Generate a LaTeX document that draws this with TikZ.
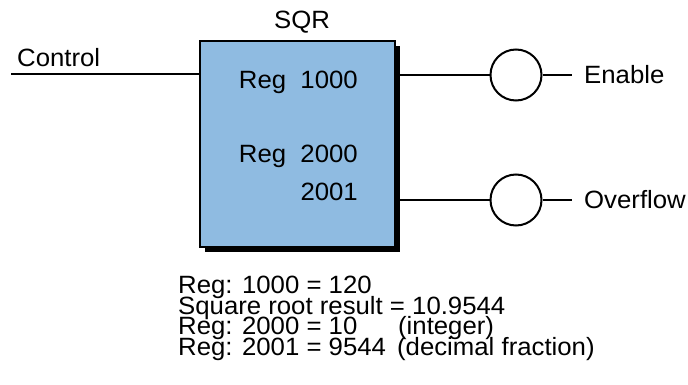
\documentclass[tikz,border=0pt]{standalone}
\usepackage{fontspec}
\setmainfont{Liberation Sans}[FakeStretch=1.03]
\usepackage{xcolor}
\definecolor{blockblue}{RGB}{143,187,225}
\usetikzlibrary{positioning,shadows}

\tikzset{
  wire/.style={line width=2pt},
  lbl/.style={inner sep=0pt, font=\fontsize{25}{20.8}\selectfont\setlength{\lineskiplimit}{-30pt}},
  fblock/.style={draw, line width=2pt, fill=blockblue, inner sep=0pt,
    minimum width=195pt, minimum height=206pt,
    drop shadow={shadow xshift=5pt, shadow yshift=-5pt, fill=black, opacity=1}},
  coil/.style={draw, circle, line width=2pt, fill=white, inner sep=0pt, minimum size=51pt}
}

\begin{document}
\begin{tikzpicture}[x=1pt, y=-1pt]
  \useasboundingbox (0,0) rectangle (688,385);
  % Function block
  \node[fblock] (sqr) at (297.5,144) {};
  \node[lbl, anchor=base] (sqrtitle) at (302,28.3) {SQR};
  \node[lbl, anchor=base east] (reg1000) at (358,88.3) {Reg\ \ 1000};
  \node[lbl, anchor=base east] (reg2000) at (358,163) {Reg\ \ 2000};
  \node[lbl, anchor=base east] (reg2001) at (358,200) {2001};
  % Input rung
  \coordinate (ctlstart) at (11,74.5);
  \node[lbl, anchor=base west] (control) at (17,67) {Control};
  \draw[wire] (ctlstart) -- (ctlstart -| sqr.west);
  % Output coils
  \foreach \name/\y/\txt in {enable/75/Enable, overflow/200/Overflow} {
    \node[coil] (\name) at (516,\y) {};
    \coordinate (\name end) at (572,\y);
    \node[lbl, anchor=west] (\name lbl) at (584,\y) {\txt};
    \draw[wire] (sqr.east |- \name) -- (\name.west);
    \draw[wire] (\name.east) -- (\name end);
  }
  % Register notes
  \node[lbl, anchor=base west, align=left] (notes) at (178,355.7)
    {Reg: 1000 = 120\\
     Square root result = 10.9544\\
     \makebox[220pt][l]{Reg: 2000 = 10}(integer)\\
     \makebox[219pt][l]{Reg: 2001 = 9544}(decimal fraction)};
\end{tikzpicture}
\end{document}
